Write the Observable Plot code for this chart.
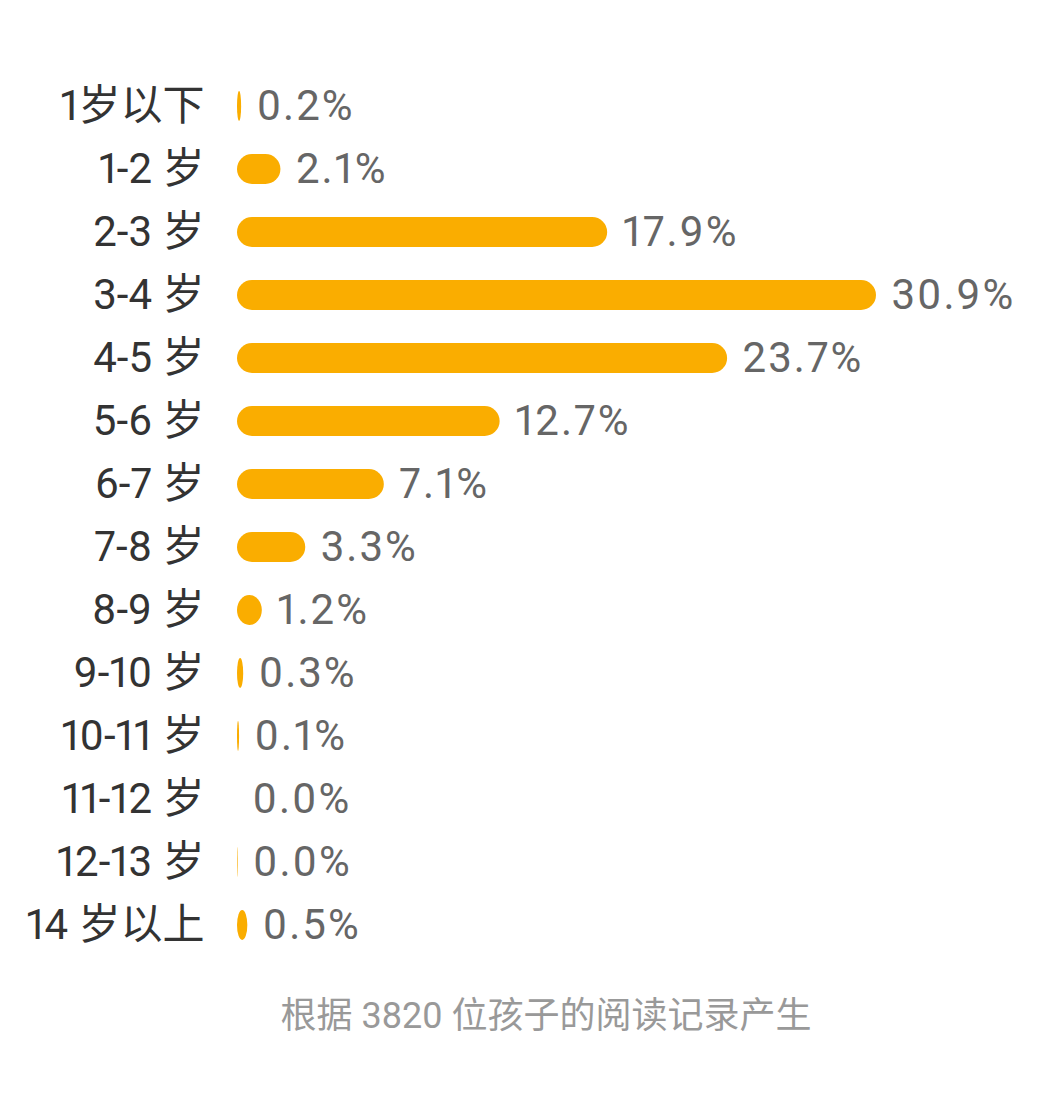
<!DOCTYPE html>
<html>
<head>
<meta charset="utf-8">
<script src="https://cdn.jsdelivr.net/npm/d3@7"></script>
<script src="https://cdn.jsdelivr.net/npm/@observablehq/plot@0.6"></script>
<style>
  html, body { margin: 0; padding: 0; background: #fff; }
  #chart svg { display: block; }
  #chart svg text { font-variant-numeric: proportional-nums; }
  #caption {
    width: 1047px;
    box-sizing: border-box;
    padding-left: 45px;
    text-align: center;
    font-family: Roboto, "Noto Sans CJK SC", sans-serif;
    font-size: 36px;
    color: #999;
    line-height: 82px;
  }
  .vals text { letter-spacing: 2px; }
</style>
</head>
<body>
<div id="chart"></div>
<div id="caption">根据 3820 位孩子的阅读记录产生</div>
<script>
const ages = ["1岁以下", "1-2 岁", "2-3 岁", "3-4 岁", "4-5 岁", "5-6 岁", "6-7 岁", "7-8 岁", "8-9 岁", "9-10 岁", "10-11 岁", "11-12 岁", "12-13 岁", "14 岁以上"];
const shares = [0.2, 2.1, 17.9, 30.9, 23.7, 12.7, 7.1, 3.3, 1.2, 0.3, 0.1, 0.0, 0.03, 0.5];

const data = ages.map((a, i) => ({age: a, share: shares[i]}));

const font = 'Roboto, "Noto Sans CJK SC", sans-serif';

const chart = Plot.plot({
  width: 1047,
  height: 975,
  marginLeft: 237,
  marginRight: 171,
  marginTop: 74.5,
  marginBottom: 18.5,
  style: {fontFamily: font, background: "#fff"},
  x: {domain: [0, 30.9], axis: null},
  y: {domain: ages, paddingInner: 0.524, paddingOuter: 0.262, label: null},
  marks: [
    Plot.axisY({tickSize: 0, tickPadding: 33, fontSize: 42, color: "#333", label: null}),
    Plot.barX(data, {x: "share", y: "age", fill: "#FAAD00", rx: 15}),
    Plot.text(data, {
      x: "share", y: "age",
      text: d => d.share.toFixed(1) + "%",
      textAnchor: "start", dx: 15,
      fontSize: 42, fill: "#666",
      className: "vals"
    })
  ]
});
document.getElementById("chart").appendChild(chart);
</script>
</body>
</html>
